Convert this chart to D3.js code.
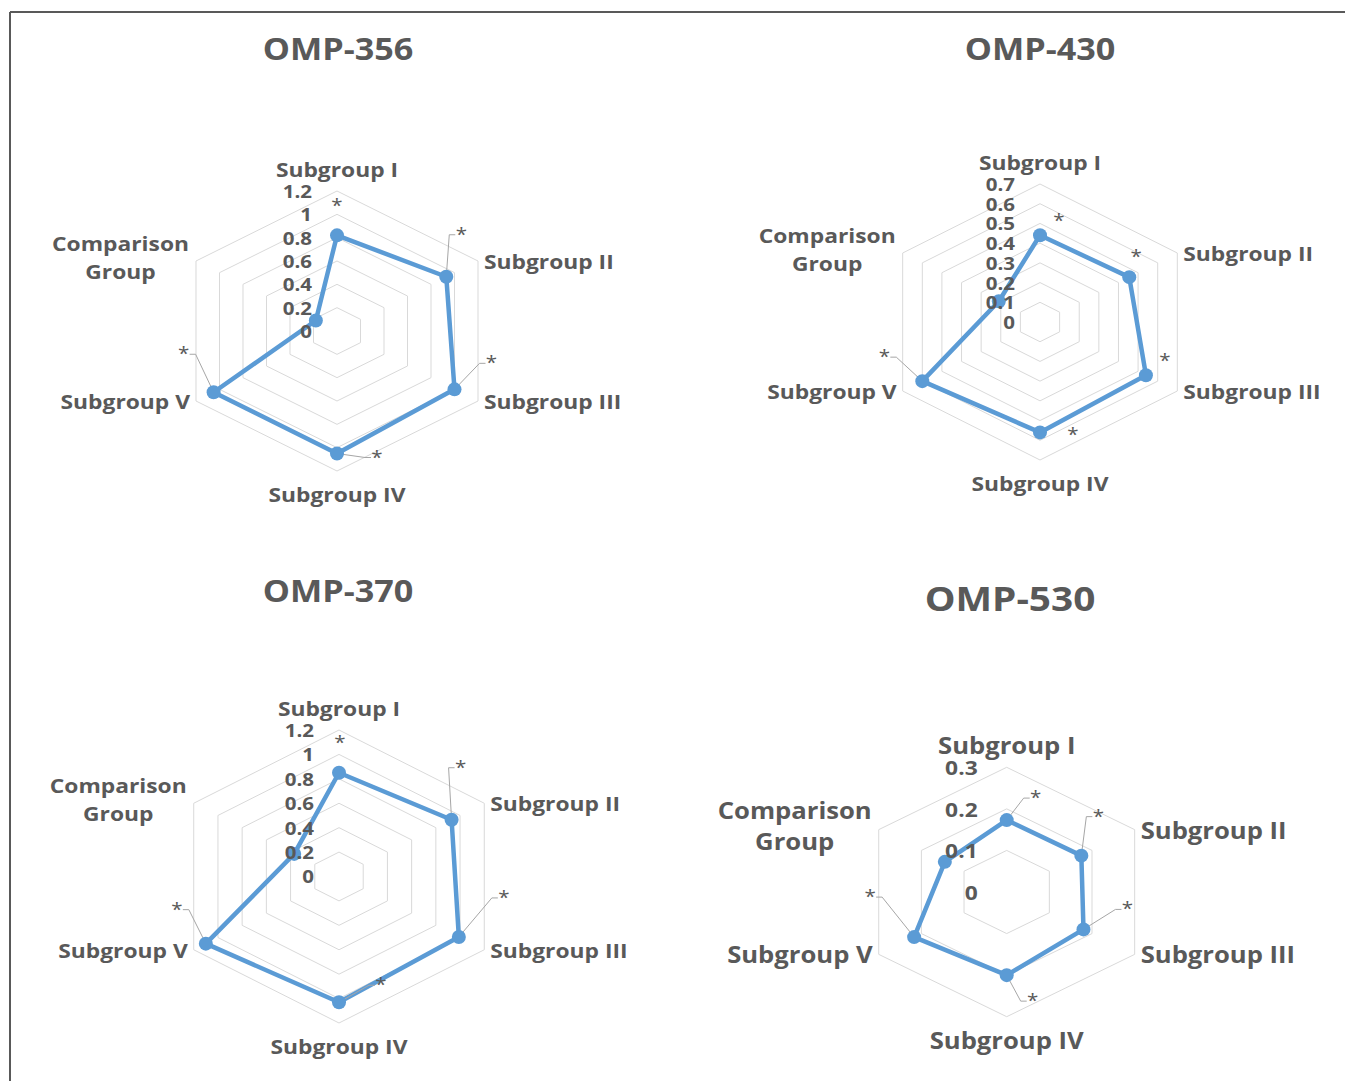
<!DOCTYPE html>
<html lang="en">
<head>
<meta charset="UTF-8" />
<title>OMP radar charts</title>
<script src="https://cdn.jsdelivr.net/npm/d3@7"></script>
<style>
  body { margin: 0; background: #fff; font-family: "Open Sans", Arial, sans-serif; }
  svg text { font-weight: 700; fill: #595959; }
</style>
</head>
<body>
<svg id="chart" width="1345" height="1081"></svg>
<script>
// axis order: clockwise from the top
const categories = ["Subgroup I", "Subgroup II", "Subgroup III", "Subgroup IV", "Subgroup V", "Comparison Group"];

// values
const omp356 = [0.82, 0.93, 1.0, 1.05, 1.05, 0.18];
const omp430 = [0.44, 0.455, 0.54, 0.56, 0.6, 0.21];
const omp370 = [0.85, 0.93, 0.99, 1.03, 1.1, 0.37];
const omp530 = [0.173, 0.175, 0.18, 0.2, 0.217, 0.145];

const ticks356 = [0, 0.2, 0.4, 0.6, 0.8, 1, 1.2];
const ticks430 = [0, 0.1, 0.2, 0.3, 0.4, 0.5, 0.6, 0.7];
const ticks370 = [0, 0.2, 0.4, 0.6, 0.8, 1, 1.2];
const ticks530 = [0, 0.1, 0.2, 0.3];

// significance marks
const signif = ["*", "*", "*", "*", "*", ""];

const blue = "#5b9bd5";
const grey = "#595959";
const stretch = 1.14; // the original picture is a bit wider than tall

const panels = [
  { title: "OMP-356", values: omp356, ticks: ticks356, cx: 337, cy: 331, R: 140, sx: 1.163,
    titleX: 338, titleY: 48, fs: 20, tfs: 30, kfs: 18, tickGap: 25,
    starOff: [[0, -30], [15, -43], [37, -27], [40, 3], [-30, -39]] },
  { title: "OMP-430", values: omp430, ticks: ticks430, cx: 1040, cy: 322, R: 138, sx: 1.149,
    titleX: 1040, titleY: 48, fs: 20, tfs: 30, kfs: 18, tickGap: 25,
    starOff: [[19, -15], [7, -21], [19, -15], [33, 2], [-38, -25]] },
  { title: "OMP-370", values: omp370, ticks: ticks370, cx: 339, cy: 876.5, R: 146.5, sx: 1.145,
    titleX: 338, titleY: 590, fs: 20, tfs: 30, kfs: 18, tickGap: 25,
    starOff: [[1, -31], [9, -53], [45, -40], [42, -18], [-29, -35]] },
  { title: "OMP-530", values: omp530, ticks: ticks530, cx: 1006.7, cy: 892, R: 124.7, sx: 1.185,
    titleX: 1010, titleY: 598, fs: 22.5, tfs: 34, kfs: 20, tickGap: 29,
    starOff: [[29, -23], [17, -40], [44, -21], [26, 25], [-44, -41]] }
];

const svg = d3.select("#chart");

// frame (top and left edges only are visible)
svg.append("line").attr("x1", 10).attr("y1", 12).attr("x2", 1345).attr("y2", 12)
  .attr("stroke", grey).attr("stroke-width", 2);
svg.append("line").attr("x1", 10).attr("y1", 12).attr("x2", 10).attr("y2", 1081)
  .attr("stroke", grey).attr("stroke-width", 2);

const n = categories.length;
const angle = d3.scaleLinear().domain([0, n]).range([0, 2 * Math.PI]);

// put a text at x,y widened like the original
function place(sel, x, y) {
  return sel.attr("transform", `translate(${x},${y}) scale(${stretch},1)`);
}

panels.forEach(p => {
  const g = svg.append("g");
  const r = d3.scaleLinear().domain([0, d3.max(p.ticks)]).range([0, p.R]);
  const px = (i, v) => p.cx + r(v) * Math.sin(angle(i)) * p.sx;
  const py = (i, v) => p.cy - r(v) * Math.cos(angle(i));

  // title
  place(g.append("text"), p.titleX, p.titleY)
    .attr("text-anchor", "middle").attr("dominant-baseline", "central")
    .style("font-size", p.tfs + "px").text(p.title);

  // grid rings
  const ring = d3.line().curve(d3.curveLinearClosed);
  g.selectAll(".ring").data(p.ticks.filter(t => t > 0)).join("path")
    .attr("d", t => ring(d3.range(n).map(i => [px(i, t), py(i, t)])))
    .attr("fill", "none").attr("stroke", "#d9d9d9").attr("stroke-width", 1);

  // series
  const pts = p.values.map((v, i) => [px(i, v), py(i, v)]);
  g.append("path").attr("d", ring(pts))
    .attr("fill", "none").attr("stroke", blue).attr("stroke-width", 4.5)
    .attr("stroke-linejoin", "round");

  // leader lines + significance stars
  p.starOff.forEach((o, i) => {
    if (!signif[i]) return;
    const [x0, y0] = pts[i];
    const ax = x0 + o[0], ay = y0 + o[1];
    if (Math.hypot(o[0], o[1]) > 34) {
      const s = o[0] >= 0 ? 1 : -1;
      g.append("polyline")
        .attr("points", [[x0, y0], [ax - s * 12, ay + 1], [ax - s * 6, ay + 1]].join(" "))
        .attr("fill", "none").attr("stroke", "#a6a6a6").attr("stroke-width", 1);
    }
    place(g.append("text"), ax, ay + 7)
      .attr("text-anchor", "middle")
      .style("font-size", "18px").style("font-weight", 400).text(signif[i]);
  });

  g.selectAll(".dot").data(pts).join("circle")
    .attr("cx", d => d[0]).attr("cy", d => d[1]).attr("r", 7).attr("fill", blue);

  // tick labels
  p.ticks.forEach(t => {
    place(g.append("text"), p.cx - p.tickGap, p.cy - r(t))
      .attr("text-anchor", "end").attr("dominant-baseline", "central")
      .style("font-size", p.kfs + "px").text(String(+t.toFixed(2)));
  });

  // category labels
  const outer = d3.max(p.ticks);
  categories.forEach((c, i) => {
    const vx = px(i, outer), vy = py(i, outer);
    const t = g.append("text").style("font-size", p.fs + "px").attr("dominant-baseline", "central");
    if (i === 0) place(t, vx, vy - 22).attr("text-anchor", "middle").text(c);
    else if (i === 3) place(t, vx, vy + 23).attr("text-anchor", "middle").text(c);
    else if (i === 1 || i === 2) place(t, vx + 6, vy).attr("text-anchor", "start").text(c);
    else if (i === 4) place(t, vx - 6, vy).attr("text-anchor", "end").text(c);
    else {
      const words = c.split(" ");
      t.attr("text-anchor", "middle").text(words[0]);
      const w = t.node().getComputedTextLength() * stretch;
      const mx = vx - 7 - w / 2;
      const lh = p.fs * 1.4;
      place(t, mx, vy - lh / 2 - 4);
      place(g.append("text"), mx, vy + lh / 2 - 4).style("font-size", p.fs + "px")
        .attr("dominant-baseline", "central").attr("text-anchor", "middle").text(words[1]);
    }
  });
});
</script>
</body>
</html>
